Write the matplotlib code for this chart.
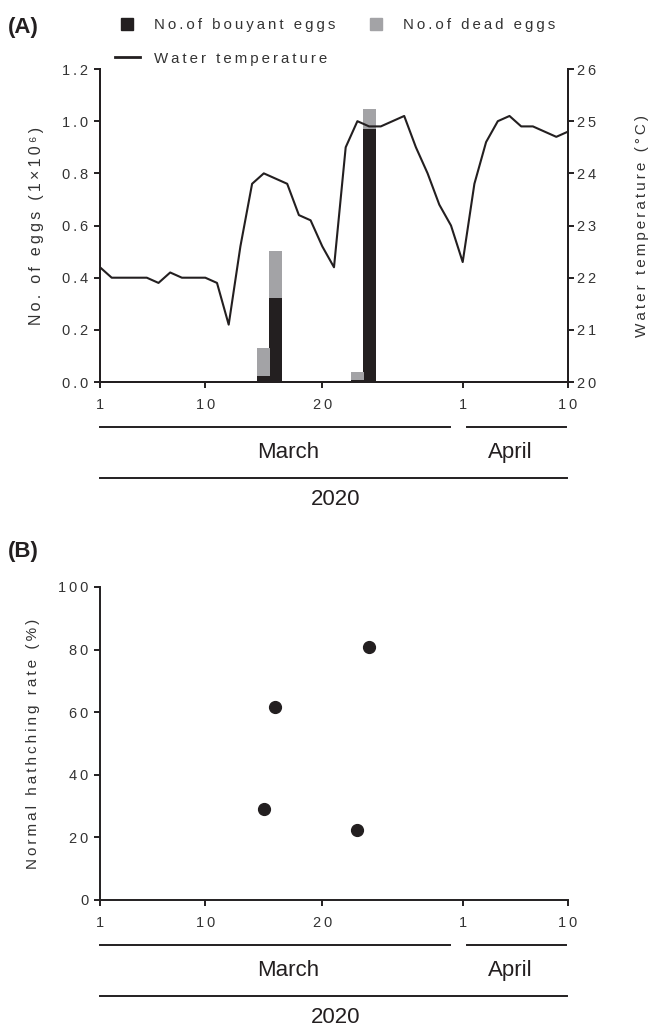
import matplotlib.pyplot as plt
from matplotlib.lines import Line2D

plt.rcParams['font.family'] = ['Liberation Sans', 'DejaVu Sans']

# day index: 1..31 = March 1..31, 32..41 = April 1..10
days = list(range(1, 42))
water_temp = [22.2, 22.0, 22.0, 22.0, 22.0, 21.9, 22.1, 22.0, 22.0, 22.0,
              21.9, 21.1, 22.6, 23.8, 24.0, 23.9, 23.8, 23.2, 23.1, 22.6,
              22.2, 24.5, 25.0, 24.9, 24.9, 25.0, 25.1, 24.5, 24.0, 23.4,
              23.0, 22.3, 23.8, 24.6, 25.0, 25.1, 24.9, 24.9, 24.8, 24.7,
              24.8]

egg_days = [15, 16, 23, 24]
buoyant_eggs = [0.024, 0.323, 0.008, 0.969]
dead_eggs = [0.105, 0.179, 0.029, 0.077]

hatch_days = [15, 16, 23, 24]
hatch_rate = [29.0, 61.7, 22.3, 80.7]

tick_days = [1, 10, 20, 32, 41]
tick_labels = ['1', '10', '20', '1', '10']
egg_ticks = [0.0, 0.2, 0.4, 0.6, 0.8, 1.0, 1.2]
temp_ticks = [20, 21, 22, 23, 24, 25, 26]
hatch_ticks = [0, 20, 40, 60, 80, 100]

DARK = '#231f20'
GRAY = '#a3a3a6'
SP = '\u2009'


def spaced(s):
    return SP.join(s)


def style_axis(ax):
    for side in ['left', 'right', 'bottom', 'top']:
        ax.spines[side].set_linewidth(1.4)
        ax.spines[side].set_color(DARK)
    ax.tick_params(direction='out', length=4.5, width=1.4, color=DARK,
                   labelsize=10.5, labelcolor='#333333')
    ax.tick_params(axis='x', pad=7)
    ax.tick_params(axis='y', pad=4)


def draw_dates(ax):
    tr = ax.get_xaxis_transform()
    kw = dict(transform=tr, clip_on=False, color=DARK, lw=1.4)
    ax.plot([1, 30.9], [-0.145, -0.145], **kw)
    ax.plot([32.4, 40.8], [-0.145, -0.145], **kw)
    ax.plot([1, 40.9], [-0.306, -0.306], **kw)
    ax.text(17.1, -0.226, 'March', transform=tr, ha='center', va='center',
            fontsize=16, color=DARK)
    ax.text(36.1, -0.226, 'April', transform=tr, ha='center', va='center',
            fontsize=16, color=DARK)
    ax.text(21.1, -0.374, '2020', transform=tr, ha='center', va='center',
            fontsize=16, color=DARK)


fig = plt.figure(figsize=(6.54, 10.27), dpi=100)

# ---- panel A
ax1 = fig.add_axes([0.1529, 0.6280, 0.7156, 0.3048])
ax1.bar(egg_days, buoyant_eggs, width=1.1, color=DARK)
ax1.bar(egg_days, dead_eggs, width=1.1, bottom=buoyant_eggs, color=GRAY)
ax1.set_xlim(1, 41)
ax1.set_ylim(0, 1.2)
ax1.set_yticks(egg_ticks)
ax1.set_yticklabels([spaced(f'{v:.1f}') for v in egg_ticks])
ax1.set_xticks(tick_days)
ax1.set_xticklabels([spaced(t) for t in tick_labels])
ax1.spines['top'].set_visible(False)
ax1.set_ylabel(spaced('No. of eggs (1×10⁶)'), fontsize=11.5, color='#333333',
               labelpad=13)
style_axis(ax1)

ax2 = ax1.twinx()
ax2.plot(days, water_temp, color=DARK, lw=1.5)
ax2.set_ylim(20, 26)
ax2.set_yticks(temp_ticks)
ax2.set_yticklabels([spaced(str(v)) for v in temp_ticks])
ax2.spines['top'].set_visible(False)
ax2.set_ylabel(spaced('Water temperature (°C)'), fontsize=11, color='#333333',
               labelpad=28)
style_axis(ax2)
ax2.tick_params(axis='y', pad=2)
draw_dates(ax1)

handles = [Line2D([], [], marker='s', ls='none', color=DARK, markersize=8.5),
           Line2D([], [], color=DARK, lw=2),
           Line2D([], [], marker='s', ls='none', color=GRAY, markersize=8.5)]
labels = [spaced('No.of bouyant eggs'), spaced('Water temperature'),
          spaced('No.of dead eggs')]
fig.legend(handles, labels, loc='upper left', bbox_to_anchor=(115 / 654, 1 - 18 / 1027),
           ncol=2, frameon=False, fontsize=10.8, borderpad=0, borderaxespad=0,
           handlelength=1.65, handletextpad=0.95, columnspacing=1.9,
           labelspacing=1.3, labelcolor='#333333')

fig.text(0.012, 1 - 28 / 1027, '(A)', fontsize=16, fontweight='bold',
         va='center', color=DARK)

# ---- panel B
ax3 = fig.add_axes([0.1529, 0.1237, 0.7156, 0.3048])
ax3.plot(hatch_days, hatch_rate, 'o', color=DARK, markersize=8.5)
ax3.set_xlim(1, 41)
ax3.set_ylim(0, 100)
ax3.set_yticks(hatch_ticks)
ax3.set_yticklabels([spaced(str(v)) for v in hatch_ticks])
ax3.set_xticks(tick_days)
ax3.set_xticklabels([spaced(t) for t in tick_labels])
ax3.spines['top'].set_visible(False)
ax3.spines['right'].set_visible(False)
ax3.set_ylabel(spaced('Normal hathching rate (%)'), fontsize=11, color='#333333',
               labelpad=13)
style_axis(ax3)
draw_dates(ax3)

fig.text(0.012, 1 - 551 / 1027, '(B)', fontsize=16, fontweight='bold',
         va='center', color=DARK)

fig.savefig('out.png', dpi=100)
